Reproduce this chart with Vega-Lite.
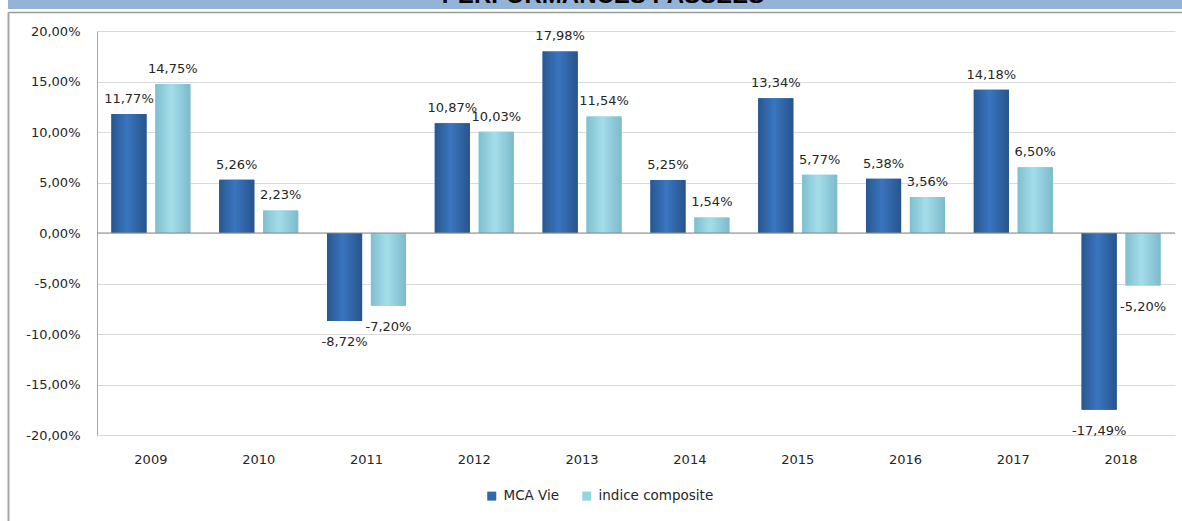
{
  "$schema": "https://vega.github.io/schema/vega-lite/v6.json",
  "padding": 0,
  "background": "white",
  "spacing": 0,
  "config": {
    "view": {"stroke": null},
    "font": "DejaVu Sans",
    "locale": {"number": {"decimal": ",", "thousands": " ", "grouping": [3], "currency": ["", " €"], "minus": "-"}}
  },
  "datasets": {
    "perf": [
      {"year": "2009", "series": "MCA Vie", "value": 0.1177},
      {"year": "2009", "series": "indice composite", "value": 0.1475},
      {"year": "2010", "series": "MCA Vie", "value": 0.0526},
      {"year": "2010", "series": "indice composite", "value": 0.0223},
      {"year": "2011", "series": "MCA Vie", "value": -0.0872},
      {"year": "2011", "series": "indice composite", "value": -0.072},
      {"year": "2012", "series": "MCA Vie", "value": 0.1087},
      {"year": "2012", "series": "indice composite", "value": 0.1003},
      {"year": "2013", "series": "MCA Vie", "value": 0.1798},
      {"year": "2013", "series": "indice composite", "value": 0.1154},
      {"year": "2014", "series": "MCA Vie", "value": 0.0525},
      {"year": "2014", "series": "indice composite", "value": 0.0154},
      {"year": "2015", "series": "MCA Vie", "value": 0.1334},
      {"year": "2015", "series": "indice composite", "value": 0.0577},
      {"year": "2016", "series": "MCA Vie", "value": 0.0538},
      {"year": "2016", "series": "indice composite", "value": 0.0356},
      {"year": "2017", "series": "MCA Vie", "value": 0.1418},
      {"year": "2017", "series": "indice composite", "value": 0.065},
      {"year": "2018", "series": "MCA Vie", "value": -0.1749},
      {"year": "2018", "series": "indice composite", "value": -0.052}
    ]
  },
  "vconcat": [
    {
      "width": 1182,
      "height": 9,
      "view": {"fill": "#95B3D7", "stroke": null},
      "data": {"values": [{"t": "PERFORMANCES PASSEES", "v": 0}]},
      "layer": [
        {
          "mark": {"type": "rule", "strokeOpacity": 0},
          "encoding": {
            "x": {"field": "v", "type": "quantitative", "scale": {"domain": [0, 1]},
              "axis": {"orient": "bottom", "offset": 3, "title": null, "labels": false, "ticks": false, "grid": false, "domain": true, "domainColor": "#9A9A9A", "domainWidth": 1.5}}
          }
        },
        {
          "mark": {"type": "text", "clip": true, "font": "Liberation Sans", "fontWeight": "bold", "fontSize": 24, "baseline": "alphabetic", "dy": -2, "dx": 4, "color": "#000000"},
          "encoding": {"text": {"field": "t"}}
        }
      ]
    },
    {
      "spacing": 0,
      "hconcat": [
        {
          "width": 1,
          "height": 512,
          "data": {"values": [{"v": 0}]},
          "mark": {"type": "rule", "strokeOpacity": 0},
          "encoding": {
            "y": {"field": "v", "type": "quantitative", "scale": {"domain": [0, 1]},
              "axis": {"title": null, "labels": false, "ticks": false, "grid": false, "domain": true, "domainColor": "#A6A6A6", "domainWidth": 2, "minExtent": 8, "maxExtent": 8}}
          }
        },
        {
          "spacing": 12,
          "vconcat": [
            {
              "width": 1,
              "height": 1,
              "data": {"values": []},
              "mark": {"type": "point"},
              "encoding": {}
            },
            {
              "width": 1078,
              "height": 404,
              "data": {"name": "perf"},
              "layer": [
                {
                  "mark": {"type": "bar"},
                  "encoding": {
                    "x": {"field": "year", "type": "nominal", "scale": {"paddingInner": 0.267, "paddingOuter": 0.1335},
                      "axis": {"title": null, "domain": false, "ticks": false, "labelAngle": 0, "labelPadding": 18, "labelFontSize": 13, "labelColor": "#262626"}},
                    "xOffset": {"field": "series", "sort": ["MCA Vie", "indice composite"], "scale": {"paddingInner": 0.2}},
                    "y": {"field": "value", "type": "quantitative", "scale": {"domain": [-0.2, 0.2], "nice": false, "zero": false},
                      "axis": {"title": null, "values": [-0.2, -0.15, -0.1, -0.05, 0, 0.05, 0.1, 0.15, 0.2], "format": ".2%", "grid": true, "gridColor": "#D9D9D9", "domain": true, "domainColor": "#A6A6A6", "ticks": false, "labelPadding": 17, "labelFontSize": 13, "labelColor": "#262626", "minExtent": 88, "maxExtent": 88}},
                    "color": {"field": "series", "type": "nominal", "scale": {"domain": ["MCA Vie", "indice composite"], "range": ["#3166AC", "#93D3E2"]},
                      "legend": {"title": null, "orient": "none", "legendX": 477, "legendY": 489, "padding": 0, "direction": "horizontal", "symbolType": "square", "symbolSize": 81, "symbolStrokeWidth": 0, "labelFontSize": 13.5, "labelColor": "#262626", "columnPadding": 20, "labelOffset": 5}}
                  }
                },
                {
                  "transform": [{"filter": "datum.series == 'MCA Vie'"}],
                  "mark": {"type": "bar", "fill": {"gradient": "linear", "x1": 0, "x2": 1, "y1": 0, "y2": 0, "stops": [{"offset": 0, "color": "#28578F"}, {"offset": 0.45, "color": "#3A75C0"}, {"offset": 1, "color": "#27548C"}]}},
                  "encoding": {
                    "x": {"field": "year", "type": "nominal"},
                    "xOffset": {"field": "series", "sort": ["MCA Vie", "indice composite"]},
                    "y": {"field": "value", "type": "quantitative"}
                  }
                },
                {
                  "transform": [{"filter": "datum.series == 'indice composite'"}],
                  "mark": {"type": "bar", "fill": {"gradient": "linear", "x1": 0, "x2": 1, "y1": 0, "y2": 0, "stops": [{"offset": 0, "color": "#7FBFCF"}, {"offset": 0.45, "color": "#A4DDEA"}, {"offset": 1, "color": "#7CBACB"}]}},
                  "encoding": {
                    "x": {"field": "year", "type": "nominal"},
                    "xOffset": {"field": "series", "sort": ["MCA Vie", "indice composite"]},
                    "y": {"field": "value", "type": "quantitative"}
                  }
                },
                {
                  "data": {"values": [{}]},
                  "mark": {"type": "rule", "color": "#8C8C8C", "strokeWidth": 1},
                  "encoding": {"y": {"datum": 0}}
                },
                {
                  "transform": [{"filter": "datum.value >= 0"}],
                  "mark": {"type": "text", "baseline": "alphabetic", "dy": -11, "fontSize": 13, "color": "#262626"},
                  "encoding": {
                    "x": {"field": "year", "type": "nominal"},
                    "xOffset": {"field": "series", "sort": ["MCA Vie", "indice composite"]},
                    "y": {"field": "value", "type": "quantitative"},
                    "text": {"field": "value", "format": ".2%"}
                  }
                },
                {
                  "transform": [{"filter": "datum.value < 0"}],
                  "mark": {"type": "text", "baseline": "top", "dy": 15, "fontSize": 13, "color": "#262626"},
                  "encoding": {
                    "x": {"field": "year", "type": "nominal"},
                    "xOffset": {"field": "series", "sort": ["MCA Vie", "indice composite"]},
                    "y": {"field": "value", "type": "quantitative"},
                    "text": {"field": "value", "format": ".2%"}
                  }
                }
              ]
            }
          ]
        }
      ]
    }
  ]
}
